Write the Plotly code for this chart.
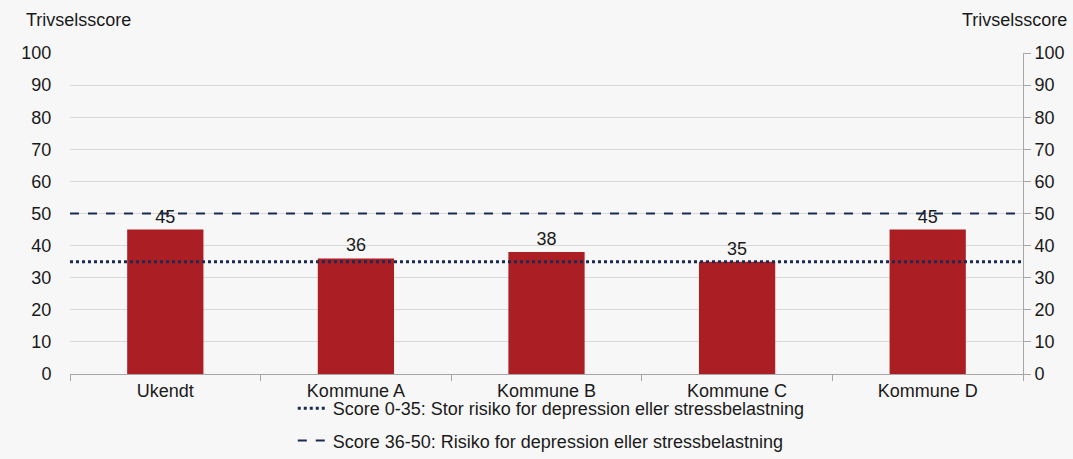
import plotly.graph_objects as go

# Trivselsscore per kommune
categories = ["Ukendt", "Kommune A", "Kommune B", "Kommune C", "Kommune D"]
scores = [45, 36, 38, 35, 45]

# Grænseværdier for risikogrupper
threshold_high_risk = 35
threshold_risk = 50
label_high_risk = "Score 0-35: Stor risiko for depression eller stressbelastning"
label_risk = "Score 36-50: Risiko for depression eller stressbelastning"

y_ticks = list(range(0, 101, 10))

FONT = "Liberation Sans, Arial, sans-serif"
FS = 18
NAVY = "#1a2a52"
BAR = "#ab1f24"
GRID = "#d9d9d9"
AXIS = "#a6a6a6"

W, H = 1073, 459

fig = go.Figure()

fig.add_trace(go.Bar(
    x=categories, y=scores, width=0.4,
    marker=dict(color=BAR, line=dict(width=0)),
    text=[str(s) for s in scores], textposition="outside",
    textfont=dict(family=FONT, size=FS, color="#1a1a1a"),
    cliponaxis=False, showlegend=False, hoverinfo="x+y",
))

# Vandrette grænselinjer over hele plotområdet (xaxis2 spænder 0..1)
fig.add_trace(go.Scatter(
    x=[0, 1], y=[threshold_high_risk] * 2, mode="lines",
    line=dict(color=NAVY, width=3, dash="dot"),
    name=label_high_risk, legendgroup="a", xaxis="x2", yaxis="y2",
))
fig.add_trace(go.Scatter(
    x=[0, 1], y=[threshold_risk] * 2, mode="lines",
    line=dict(color=NAVY, width=2, dash="dash"),
    name=label_risk, legendgroup="b", xaxis="x2", yaxis="y2",
))

fig.update_layout(
    width=W, height=H,
    margin=dict(l=70, r=50, t=53, b=85, autoexpand=False),
    paper_bgcolor="#f7f7f7", plot_bgcolor="#f7f7f7",
    font=dict(family=FONT, size=FS, color="#1a1a1a"),
    bargap=0.6,
    xaxis=dict(
        type="category", tickson="boundaries", ticks="outside", ticklen=6,
        tickcolor=AXIS, showline=True, linecolor=AXIS, linewidth=1,
        showgrid=False, tickfont=dict(size=FS), automargin=False,
        anchor="y",
    ),
    xaxis2=dict(overlaying="x", range=[0, 1], visible=False, anchor="y2"),
    yaxis=dict(
        range=[0, 100], tickvals=y_ticks, showgrid=True, gridcolor=GRID,
        gridwidth=1, ticks="outside", ticklen=14, tickcolor="rgba(0,0,0,0)",
        showline=False, zeroline=False, tickfont=dict(size=FS), automargin=False,
    ),
    yaxis2=dict(
        overlaying="y", side="right", range=[0, 100], tickvals=y_ticks,
        showgrid=False, showline=True, linecolor=AXIS, linewidth=1,
        ticks="outside", ticklen=7, tickcolor=AXIS, zeroline=False,
        tickfont=dict(size=FS), automargin=False,
    ),
    legend=dict(
        orientation="v", x=0.505, xanchor="center",
        yref="container", y=0, yanchor="bottom",
        bgcolor="rgba(0,0,0,0)", font=dict(size=FS), tracegroupgap=6,
    ),
    annotations=[
        dict(text="Trivselsscore", xref="paper", yref="paper", x=0, y=1,
             xshift=-46, yshift=33, xanchor="left", yanchor="middle",
             showarrow=False, font=dict(size=FS)),
        dict(text="Trivselsscore", xref="paper", yref="paper", x=1, y=1,
             xshift=46, yshift=33, xanchor="right", yanchor="middle",
             showarrow=False, font=dict(size=FS)),
    ],
)

fig.write_html("out.html")
